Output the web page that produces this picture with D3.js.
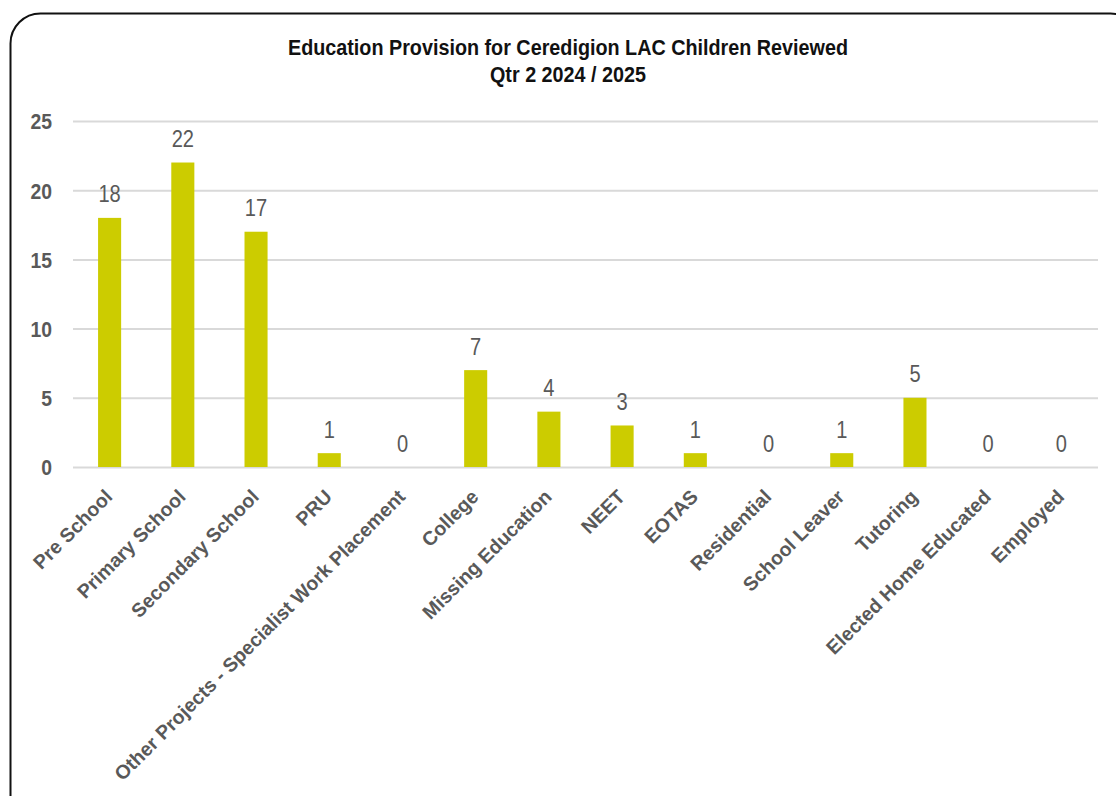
<!DOCTYPE html>
<html>
<head>
<meta charset="utf-8">
<script src="https://cdn.jsdelivr.net/npm/d3@7"></script>
<style>
  html, body { margin: 0; padding: 0; background: #fff; }
  svg { display: block; }
</style>
</head>
<body>
<svg id="chart" width="1116" height="796"></svg>
<script>
// Education provision categories and the number of children in each
const categories = [
  "Pre School", "Primary School", "Secondary School", "PRU",
  "Other Projects - Specialist Work Placement", "College", "Missing Education",
  "NEET", "EOTAS", "Residential", "School Leaver", "Tutoring",
  "Elected Home Educated", "Employed"
];
const counts = [18, 22, 17, 1, 0, 7, 4, 3, 1, 0, 1, 5, 0, 0];
const yTicks = [0, 5, 10, 15, 20, 25];
const titleLines = ["Education Provision for Ceredigion LAC Children Reviewed", "Qtr 2 2024 / 2025"];

const font = "'Liberation Sans', Arial, sans-serif";

const svg = d3.select("#chart");

// Rounded chart frame
svg.append("rect")
  .attr("x", 10.5).attr("y", 13.5)
  .attr("width", 1130).attr("height", 820)
  .attr("rx", 30).attr("ry", 30)
  .attr("fill", "#fff")
  .attr("stroke", "#111").attr("stroke-width", 2);

const plot = { left: 73, right: 1098, top: 121, bottom: 467 };

const x = d3.scaleBand()
  .domain(categories)
  .range([plot.left, plot.right])
  .paddingInner(0.685)
  .paddingOuter(0.3425);

const y = d3.scaleLinear()
  .domain([0, 25])
  .range([plot.bottom, plot.top]);

// Title (condensed bold)
svg.append("g").selectAll("text")
  .data(titleLines)
  .join("text")
  .attr("transform", (d, i) => `translate(568,${55 + i * 27}) scale(0.92,1)`)
  .attr("text-anchor", "middle")
  .attr("font-family", font)
  .attr("font-weight", "bold")
  .attr("font-size", 21.5)
  .attr("fill", "#111")
  .text(d => d);

// Horizontal gridlines and value axis
const yAxis = d3.axisLeft(y)
  .tickValues(yTicks)
  .tickSize(-(plot.right - plot.left))
  .tickPadding(21);

const gy = svg.append("g")
  .attr("transform", `translate(${plot.left},0)`)
  .call(yAxis);
gy.select(".domain").remove();
gy.selectAll(".tick line")
  .attr("stroke", "#d9d9d9")
  .attr("stroke-width", 2);
gy.selectAll(".tick text")
  .attr("x", 0)
  .attr("dy", "0.36em")
  .attr("transform", "translate(-21,0) scale(0.88,1)")
  .attr("font-family", font)
  .attr("font-weight", "bold")
  .attr("font-size", 22)
  .attr("fill", "#595959");

// Bars
svg.append("g").selectAll("rect")
  .data(categories)
  .join("rect")
  .attr("x", d => x(d))
  .attr("width", x.bandwidth())
  .attr("y", (d, i) => y(counts[i]))
  .attr("height", (d, i) => y(0) - y(counts[i]))
  .attr("fill", "#cccc00");

// Value labels above bars (condensed)
svg.append("g").selectAll("text")
  .data(categories)
  .join("text")
  .attr("transform", (d, i) => `translate(${x(d) + x.bandwidth() / 2},${y(counts[i]) - 15.5}) scale(0.82,1)`)
  .attr("text-anchor", "middle")
  .attr("font-family", font)
  .attr("font-size", 24.5)
  .attr("fill", "#595959")
  .text((d, i) => counts[i]);

// Category axis with rotated labels
const xAxis = d3.axisBottom(x).tickSize(0).tickPadding(0);
const gx = svg.append("g")
  .attr("transform", `translate(0,${plot.bottom})`)
  .call(xAxis);
gx.select(".domain").remove();
gx.selectAll(".tick text")
  .attr("font-family", font)
  .attr("font-weight", "bold")
  .attr("font-size", 19.6)
  .attr("fill", "#595959")
  .attr("text-anchor", "end")
  .attr("dy", null)
  .attr("y", 0)
  .attr("transform", "translate(4,31) rotate(-45)");
</script>
</body>
</html>
